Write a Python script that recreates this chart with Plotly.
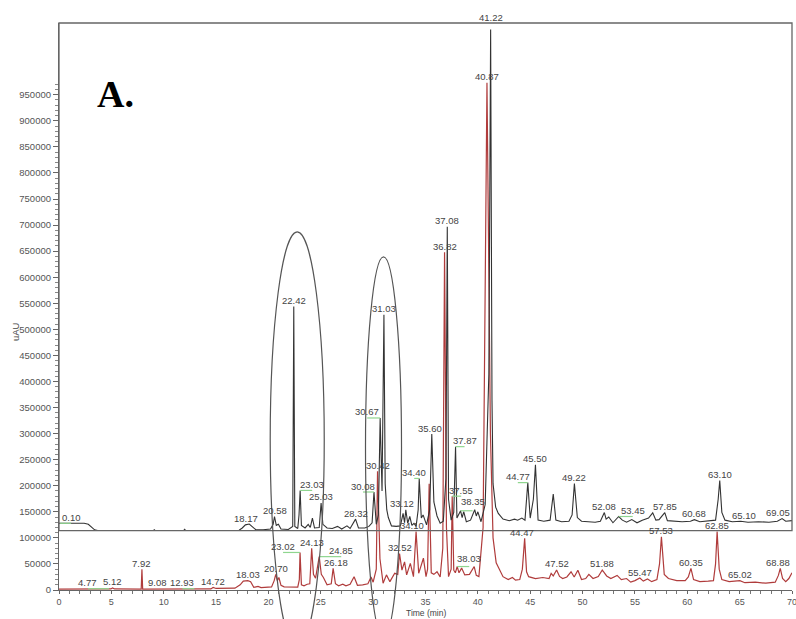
import plotly.graph_objects as go

# ---------------------------------------------------------------
# Chromatogram data: retention time (min) and detector response (uAU)
# ---------------------------------------------------------------
# Upper (black) chromatogram, response above its own baseline
black_time = [0.0, 0.10, 2.4, 2.8, 3.1, 3.4, 3.7, 9.0, 9.1, 9.2, 11.9, 12.0, 12.1,
              17.2, 17.5, 17.8, 18.17, 18.5, 18.8, 19.5, 20.2, 20.45, 20.58, 20.75,
              20.95, 21.2, 21.9, 22.32, 22.42, 22.52, 22.8, 22.92, 23.03, 23.15,
              23.5, 23.8, 24.0, 24.2, 24.4, 24.85, 24.95, 25.03, 25.2, 25.6, 26.1,
              26.6, 27.0, 27.5, 27.8, 28.32, 28.6, 29.2, 29.6, 29.9, 30.08, 30.3,
              30.5, 30.67, 30.85, 31.03, 31.15, 31.3, 31.45, 31.75, 32.2, 32.6,
              32.86, 33.0, 33.12, 33.3, 33.5, 33.7, 33.9, 34.1, 34.3, 34.40, 34.6,
              34.77, 35.1, 35.4, 35.60, 35.8, 36.1, 36.4, 36.7, 36.95, 37.08, 37.2,
              37.45, 37.7, 37.87, 38.0, 38.35, 38.5, 38.65, 38.9, 39.3, 39.7, 39.85,
              40.0, 40.3, 40.7, 41.05, 41.22, 41.35, 41.45, 41.7, 41.95, 42.4, 43.0,
              43.5, 43.8, 44.2, 44.5, 44.77, 45.0, 45.3, 45.50, 45.75, 46.3, 46.9,
              47.2, 47.45, 48.0, 48.7, 49.0, 49.22, 49.5, 49.9, 50.5, 51.2, 51.7,
              52.08, 52.25, 52.5, 52.9, 53.45, 53.8, 54.2, 54.7, 55.2, 55.7, 56.3,
              56.7, 57.0, 57.3, 57.85, 58.1, 58.8, 59.5, 60.3, 60.68, 61.2, 62.0,
              62.7, 62.95, 63.10, 63.3, 63.6, 64.3, 65.10, 65.8, 66.8, 67.8, 68.6,
              69.05, 69.4, 70.0]
black_resp = [14000, 14000, 14000, 12000, 7000, 1500, 0, 0, 1500, 0, 0, 2500, 0,
              500, 5000, 11000, 12500, 7000, 1500, 1500, 3000, 12000, 27000, 10000,
              12000, 3000, 2000, 8000, 430000, 8000, 4000, 30000, 77000, 10000,
              5000, 12000, 6000, 24000, 5000, 6000, 25000, 53000, 12000, 5000, 4000,
              8000, 3000, 9000, 4000, 22000, 5000, 5000, 8000, 15000, 74000, 12000,
              30000, 216000, 76000, 414000, 90000, 40000, 25000, 9000, 8000, 9000,
              33000, 15000, 40000, 14000, 27000, 10000, 14000, 8000, 40000, 100000, 24000,
              30000, 11000, 40000, 185000, 55000, 28000, 14000, 18000, 100000, 583000, 60000,
              20000, 35000, 161000, 24000, 38000, 25000, 36500, 17000, 20000, 40000, 28000,
              36000, 17000, 50000, 300000, 961000, 250000, 90000, 45000, 33000, 22000, 19000,
              22000, 20000, 24000, 20000, 92000, 24000, 60000, 126000, 20000, 18000, 20000,
              70000, 20000, 17000, 18000, 30000, 90000, 25000, 18000, 17000, 16000, 18000,
              34600, 22000, 26000, 15000, 27000, 20000, 16000, 21000, 15000, 20000, 24000,
              34000, 20000, 21000, 34500, 19000, 18000, 17000, 18000, 21000, 17000, 18000,
              20000, 60000, 96000, 35000, 20000, 17000, 18000, 16000, 17000, 16000, 18000,
              23000, 18000, 19000]

# Lower (red) chromatogram
red_time = [0.0, 4.5, 4.77, 4.95, 5.12, 5.3, 7.85, 7.92, 7.99, 8.9, 9.08, 9.3, 12.7,
            12.93, 13.2, 14.5, 14.72, 15.0, 16.8, 17.3, 17.6, 18.03, 18.3, 18.6, 19.0,
            19.3, 20.3, 20.55, 20.70, 20.85, 21.0, 21.2, 21.5, 22.8, 22.95, 23.02,
            23.15, 23.4, 23.7, 23.95, 24.13, 24.3, 24.5, 24.85, 25.05, 25.25, 25.6,
            26.0, 26.18, 26.4, 26.7, 27.1, 27.4, 27.8, 28.18, 28.5, 29.0, 29.5, 29.8,
            30.0, 30.3, 30.42, 30.65, 30.95, 31.27, 31.6, 32.06, 32.35, 32.52, 32.75,
            33.0, 33.2, 33.55, 33.85, 34.10, 34.35, 34.8, 35.05, 35.2, 35.35, 35.55,
            35.8, 36.1, 36.4, 36.65, 36.82, 37.0, 37.2, 37.45, 37.55, 37.7, 37.85,
            38.03, 38.2, 38.45, 38.75, 39.2, 39.65, 39.85, 40.1, 40.5, 40.87, 41.2,
            41.45, 41.75, 42.4, 42.9, 43.3, 43.6, 44.0, 44.25, 44.47, 44.65, 44.85,
            45.5, 46.2, 46.8, 47.0, 47.2, 47.52, 47.8, 48.1, 48.5, 48.9, 49.2, 49.55,
            49.9, 50.3, 50.6, 51.0, 51.5, 51.88, 52.3, 52.7, 53.3, 53.7, 54.2, 54.6,
            55.0, 55.47, 55.8, 56.2, 56.6, 57.1, 57.35, 57.53, 57.8, 58.2, 59.0, 59.8,
            60.1, 60.35, 60.6, 61.2, 62.0, 62.5, 62.7, 62.85, 63.05, 63.3, 64.0, 65.02,
            65.5, 66.5, 67.5, 68.4, 68.7, 68.88, 69.1, 69.4, 69.7, 70.0]
red_resp = [1500, 1500, 2500, 2000, 4000, 2000, 1500, 40000, 1500, 1500, 2500, 1500, 1500,
            2500, 1500, 2000, 5000, 3000, 3500, 10000, 17000, 18000, 16000, 5000, 7000,
            4500, 6000, 18000, 30000, 18000, 24000, 9000, 6000, 5500, 20000, 72000,
            10000, 8000, 11000, 12000, 80000, 30000, 22500, 64000, 30000, 24000, 10000,
            12000, 41600, 12000, 8000, 11000, 8000, 11000, 25600, 9000, 10000, 12000, 25000,
            15000, 40000, 228000, 60000, 13000, 29000, 16000, 32000, 30000, 70000, 38000,
            54000, 29000, 51000, 25600, 112000, 32000, 61000, 25600, 40000, 204000, 33000,
            30000, 35000, 25000, 80000, 648000, 120000, 25600, 40000, 180000, 38000, 33000,
            45000, 33000, 42000, 29000, 30000, 45000, 28000, 25600, 120000, 973000, 300000,
            100000, 52000, 25600, 20000, 24000, 19000, 20000, 40000, 99000, 35000, 25600,
            22000, 24000, 22000, 32000, 27000, 38400, 26000, 22000, 25000, 35000, 25000, 38000,
            20000, 22000, 30000, 22000, 26000, 38400, 27000, 22000, 28000, 20000, 22000, 15000,
            18000, 23000, 17000, 21000, 16000, 20000, 50000, 102000, 30000, 22000, 18000, 18000,
            25000, 41600, 20000, 16000, 17000, 18000, 50000, 112000, 40000, 20000, 16000, 18000,
            14000, 15000, 13000, 15000, 28000, 41600, 22000, 16000, 22000, 33000]

# Peak labels (retention times) for each trace
black_peaks = [0.10, 18.17, 20.58, 22.42, 23.03, 25.03, 28.32, 30.08, 30.67, 31.03,
               33.12, 34.40, 35.60, 37.08, 37.87, 38.35, 41.22, 44.77, 45.50, 49.22,
               52.08, 53.45, 57.85, 60.68, 63.10, 65.10, 69.05]
red_peaks = [4.77, 5.12, 7.92, 9.08, 12.93, 14.72, 18.03, 20.70, 23.02, 24.13, 24.85,
             26.18, 30.42, 32.52, 34.10, 36.82, 37.55, 38.03, 40.87, 44.47, 47.52,
             51.88, 55.47, 57.53, 60.35, 62.85, 65.02, 68.88]

y_ticks = list(range(0, 950001, 50000))
x_ticks = list(range(0, 71, 5))

# ---------------------------------------------------------------
# Layout constants
# ---------------------------------------------------------------
BLACK_OFFSET = 114000      # stacking offset of the upper chromatogram
Y_MAX = 1087700
X_MAX = 70

# horizontal label displacement (px); labels with a large shift get a leader
label_dx = {
    ("b", 0.10): 11, ("b", 18.17): -3, ("b", 23.03): 12, ("b", 30.08): -11,
    ("b", 30.67): -13, ("b", 33.12): -4, ("b", 34.40): -5, ("b", 35.60): -2,
    ("b", 37.87): 9, ("b", 38.35): 12, ("b", 44.77): -10, ("b", 53.45): 14,
    ("b", 65.10): 3, ("b", 69.05): -4,
    ("r", 4.77): -21, ("r", 9.08): 3, ("r", 12.93): -12, ("r", 23.02): -17,
    ("r", 24.85): 22, ("r", 26.18): 3, ("r", 34.10): -4, ("r", 37.55): 9,
    ("r", 38.03): 12, ("r", 44.47): -3, ("r", 68.88): -2,
}
label_dy = {("b", 41.22): 12, ("b", 38.35): 9, ("r", 38.03): 8}

BLACK_COLOR = "#333333"
RED_COLOR = "#b03c3c"
LEADER_COLOR = "#8fd68f"
TEXT_COLOR = "#444444"
FONT = "Liberation Sans, Arial, sans-serif"

black_y = [v + BLACK_OFFSET for v in black_resp]

fig = go.Figure()
fig.add_trace(go.Scatter(x=red_time, y=red_resp, mode="lines",
                         line=dict(color=RED_COLOR, width=1.2), hoverinfo="skip"))
fig.add_trace(go.Scatter(x=black_time, y=black_y, mode="lines",
                         line=dict(color=BLACK_COLOR, width=1.1), hoverinfo="skip"))

annotations = []
shapes = []

black_lookup = dict(zip(black_time, black_y))
red_lookup = dict(zip(red_time, red_resp))

for key, peaks, lookup in (("b", black_peaks, black_lookup), ("r", red_peaks, red_lookup)):
    for t in peaks:
        apex = lookup[t]
        dx = label_dx.get((key, t), 0)
        dy = label_dy.get((key, t), 6)
        annotations.append(dict(
            x=t, y=apex, xref="x", yref="y", text=f"{t:.2f}", showarrow=False,
            xanchor="center", yanchor="middle", xshift=dx, yshift=dy,
            font=dict(family=FONT, size=9.5, color=TEXT_COLOR)))
        if abs(dx) >= 5:
            shapes.append(dict(
                type="line", xref="x", yref="y", xsizemode="pixel", xanchor=t,
                x0=0, x1=dx, y0=apex, y1=apex,
                line=dict(color=LEADER_COLOR, width=1.2)))

# frame around the stacked upper chromatogram
shapes.append(dict(type="rect", xref="paper", yref="paper",
                   x0=0, x1=1, y0=BLACK_OFFSET / Y_MAX, y1=1,
                   line=dict(color="#666666", width=1.3), layer="above"))

# highlighted peak regions (ellipses), extents in minutes / uAU
regions = [(20.17, 25.33, -111300, 687100), (29.27, 32.71, -90200, 639200)]
for x0, x1, y0, y1 in regions:
    shapes.append(dict(type="circle", xref="x", yref="paper",
                       x0=x0, x1=x1, y0=y0 / Y_MAX, y1=y1 / Y_MAX,
                       line=dict(color="#555555", width=1.2), layer="above"))

# panel letter and axis titles
annotations.append(dict(x=0.0774, y=0.875, xref="paper", yref="paper", text="<b>A.</b>",
                        showarrow=False, xanchor="center", yanchor="middle",
                        font=dict(family="Liberation Serif, Times New Roman, serif",
                                  size=38, color="black")))
annotations.append(dict(x=0.5, y=-0.040, xref="paper", yref="paper", text="Time (min)",
                        showarrow=False, xanchor="center", yanchor="middle",
                        font=dict(family=FONT, size=8.5, color=TEXT_COLOR)))
annotations.append(dict(x=-0.060, y=0.455, xref="paper", yref="paper", text="uAU",
                        textangle=-90, showarrow=False, xanchor="center", yanchor="middle",
                        font=dict(family=FONT, size=9.5, color=TEXT_COLOR)))

fig.update_layout(
    width=796, height=619,
    margin=dict(l=59, r=4, t=23, b=29),
    paper_bgcolor="white", plot_bgcolor="white",
    showlegend=False,
    annotations=annotations,
    shapes=shapes,
    xaxis=dict(range=[0, X_MAX], tickvals=x_ticks, ticktext=[str(v) for v in x_ticks],
               showgrid=False, zeroline=False, showline=True, linecolor="#666666",
               linewidth=1.2, ticks="outside", ticklen=3, tickcolor="#666666",
               ticklabeloverflow="allow", automargin=False,
               tickfont=dict(family=FONT, size=9, color="#555555"),
               minor=dict(tickvals=list(range(0, 71)), ticks="outside", ticklen=3,
                          tickcolor="#777777")),
    yaxis=dict(range=[0, Y_MAX], tickvals=y_ticks, ticktext=[str(v) for v in y_ticks],
               showgrid=False, zeroline=False, showline=True, linecolor="#666666",
               linewidth=1.2, ticks="outside", ticklen=5, tickcolor="#666666",
               automargin=False,
               tickfont=dict(family=FONT, size=9.5, color="#555555"),
               minor=dict(tickvals=list(range(0, 970001, 10000)), ticks="outside",
                          ticklen=3, tickcolor="#888888")),
)

fig.write_html("out.html")
